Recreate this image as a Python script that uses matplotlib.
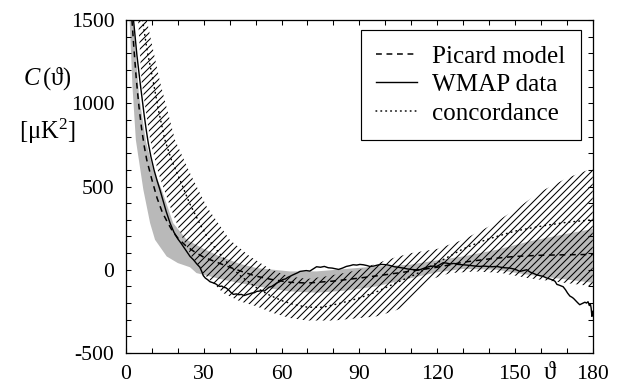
import numpy as np
import matplotlib
matplotlib.use("Agg")
import matplotlib.pyplot as plt
from matplotlib.ticker import MultipleLocator

plt.rcParams['font.family'] = ['Liberation Serif', 'DejaVu Serif']
plt.rcParams['mathtext.fontset'] = 'custom'
plt.rcParams['mathtext.rm'] = 'Liberation Serif'
plt.rcParams['mathtext.it'] = 'Liberation Serif:italic'
plt.rcParams['axes.unicode_minus'] = False
plt.rcParams['hatch.linewidth'] = 0.9
plt.rcParams['lines.scale_dashes'] = False

# Picard model (dashed)
picard_t = [2.3, 3, 4, 5, 6, 7, 8, 10, 12, 14, 16, 18, 20, 23, 26, 30, 35, 40, 45,
            50, 56, 63, 70, 80, 90, 100, 110, 120, 130, 140, 150, 160, 170, 180]
picard_v = [1500, 1340, 1140, 980, 850, 745, 660, 540, 430, 345, 285, 230, 190, 145,
            112, 75, 45, 15, -12, -38, -58, -75, -80, -68, -50, -30, -8, 15, 45, 65,
            80, 87, 90, 92]

# grey band around the Picard model
band_up_t = [2.8, 5.0, 7.7, 10.5, 13.8, 18.2, 23.4, 30, 36.2, 44, 50.4, 63.2, 73.5,
             85, 96.6, 109.5, 117.2, 130, 143, 155.5, 168, 180]
band_up_v = [1500, 1050, 770, 600, 480, 280, 180, 125, 80, 35, 10, -10, -10,
             5, 20, 30, 50, 80, 120, 170, 210, 245]
band_lo_t = [1.4, 2.5, 3.8, 6.7, 9.3, 11.2, 15.7, 20, 24.7, 27.2, 37.5, 50.4, 63.2,
             73.5, 85, 96.6, 110, 120, 130, 143, 155, 168, 180]
band_lo_v = [1500, 1100, 780, 480, 280, 180, 80, 40, 15, -20, -60, -100, -130,
             -138, -125, -100, -50, -15, 5, 0, -30, -55, -78]

# concordance model (dotted) and its band (hatched)
conc_t = [6.4, 8, 10.5, 12.5, 15, 17.5, 20.8, 24.5, 28.5, 32.4, 36.2, 40, 44, 50, 55,
          60, 65, 70, 76, 83, 90, 97, 104, 112, 118, 124, 130, 137, 143, 150, 156,
          162, 170, 180]
conc_v = [1500, 1330, 1130, 960, 780, 660, 540, 400, 275, 170, 95, 25, -35, -105, -150,
          -185, -210, -225, -225, -200, -170, -130, -80, -25, 25, 75, 125, 170, 200,
          232, 250, 267, 285, 300]
hatch_up_t = [8, 13.1, 18.9, 24.7, 31.1, 40, 47.8, 56, 63, 70, 77, 84, 90, 97, 104,
              110, 120, 130, 140, 150, 160, 170, 180]
hatch_up_v = [1500, 1130, 780, 580, 380, 180, 80, 0, -40, -55, -40, -20, 0, 40, 75,
              100, 125, 180, 260, 360, 470, 550, 610]
hatch_lo_t = [4.7, 6.0, 9.3, 12.5, 17, 22.1, 25.3, 29.7, 37.5, 44, 50.4, 56.8, 63.2,
              70, 80, 90, 96.6, 103, 108, 112, 117.2, 125, 135, 145, 155, 165, 180]
hatch_lo_v = [1500, 1130, 780, 580, 380, 180, 80, -20, -140, -190, -220, -260, -290,
              -305, -305, -290, -280, -250, -220, -140, -60, -20, -10, -20, -50, -70, -100]

# WMAP data (solid)
wmap_t = [2.9, 3.5, 4.2, 5.4, 6.2, 7.0, 7.8, 8.6, 9.6, 10.8, 12.0, 13.1, 14.2, 15.5,
          17.0, 18.5, 20.0, 21.2, 22.1, 23.4, 24.7, 26.0, 27.3, 28.5, 29.2, 29.8, 30.6,
          31.5, 32.4, 33.5, 34.6, 35.5, 36.2, 37.0, 37.5, 38.5, 39.5, 40.4, 41.4, 42.5,
          43.5, 44.5, 45.5, 46.5, 47.5, 48.5, 49.5, 50.4, 51.5, 52.5, 53.4, 54.2, 55.2,
          56.2, 57.2, 58.1, 59.2, 60.3, 61.5, 62.5, 63.2, 64.2, 65.2, 66.2, 67.1, 68.2,
          69.5, 70.9, 72.2, 73.5, 75.0, 76.5, 78.0, 79.5, 81.0, 82.0, 83.5, 85.0, 86.5,
          87.6, 89.0, 90.2, 91.5, 93.0, 94.0, 95.5, 97.0, 98.5, 100.5, 102.0, 103.5,
          105.0, 106.9, 108.5, 110.0, 111.5, 113.3, 114.8, 116.0, 117.2, 118.5, 119.8,
          121.0, 122.3, 123.6, 125.0, 126.5, 128.0, 130.0, 131.5, 133.0, 134.8, 136.5,
          138.0, 139.5, 141.0, 143.0, 144.5, 146.0, 148.0, 149.5, 150.8, 151.9, 153.2,
          154.5, 156.0, 157.2, 158.3, 159.5, 160.9, 162.0, 163.3, 164.7, 165.5, 166.2,
          167.0, 168.0, 168.6, 169.5, 170.3, 171.2, 172.0, 172.6, 173.4, 174.2, 175.0,
          175.7, 176.3, 177.0, 177.6, 178.2, 178.7, 179.1, 179.4, 179.7, 180.0]
wmap_v = [1500, 1400, 1290, 1130, 1030, 930, 840, 760, 680, 600, 535, 480, 420, 350,
          280, 225, 185, 160, 140, 110, 80, 60, 35, 15, -10, -35, -50,
          -60, -72, -78, -85, -95, -100, -98, -105, -108, -120, -135, -148, -145,
          -150, -148, -155, -150, -145, -140, -138, -130, -128, -125, -128, -118, -105,
          -100, -90, -80, -72, -60, -55, -45, -40, -32, -25, -18, -10, -8,
          -5, -8, 5, 18, 15, 20, 12, 10, 5, 2, 10, 20, 25,
          30, 28, 32, 30, 25, 20, 22, 28, 32, 30, 25, 18,
          15, 10, 5, 2, 0, 0, 8, 15, 20, 22, 20,
          30, 42, 40, 35, 38, 32, 30, 28, 25, 22, 20,
          22, 20, 18, 20, 15, 12, 10, 5, -2, -10, -5,
          0, -15, -22, -30, -35, -40, -48, -55, -62, -70, -88,
          -92, -98, -102, -120, -140, -158, -165, -172, -185, -198, -210,
          -205, -200, -195, -200, -192, -215, -205, -230, -280, -250]

fig = plt.figure(figsize=(619 / 84, 383 / 84), dpi=84)
ax = fig.add_axes([126 / 619, 30 / 383, 466.7 / 619, 333 / 383])

ax.fill(np.r_[band_up_t, band_lo_t[::-1]], np.r_[band_up_v, band_lo_v[::-1]],
        facecolor='#b9b9b9', edgecolor='none', zorder=1)
ax.fill(np.r_[hatch_up_t, hatch_lo_t[::-1]], np.r_[hatch_up_v, hatch_lo_v[::-1]],
        facecolor='none', edgecolor='black', linewidth=0, hatch='////', zorder=2)
ax.plot(conc_t, conc_v, color='black', lw=1.3, linestyle=(0, (0.6, 3.6)),
        dash_capstyle='round', zorder=3, label='concordance')
ax.plot(picard_t, picard_v, color='black', lw=1.3, linestyle=(0, (5, 4)),
        zorder=4, label='Picard model')
ax.plot(wmap_t, wmap_v, color='black', lw=1.2, zorder=5, label='WMAP data')

ax.set_xlim(0, 180)
ax.set_ylim(-500, 1500)
ax.xaxis.set_major_locator(MultipleLocator(30))
ax.xaxis.set_minor_locator(MultipleLocator(10))
ax.yaxis.set_major_locator(MultipleLocator(500))
ax.yaxis.set_minor_locator(MultipleLocator(100))
ax.tick_params(which='both', direction='in', top=True, right=True,
               length=4.5, width=0.9, labelsize=18.5)
ax.tick_params(axis='x', pad=10)
ax.tick_params(axis='y', pad=10)
for s in ax.spines.values():
    s.set_linewidth(1.1)

h, l = ax.get_legend_handles_labels()
order = [1, 2, 0]
leg = ax.legend([h[i] for i in order], [l[i] for i in order],
                loc='upper right', bbox_to_anchor=(0.974, 0.970), fontsize=21.5,
                frameon=True, fancybox=False, edgecolor='black', framealpha=1,
                handlelength=1.65, handletextpad=0.6, borderpad=0.6,
                labelspacing=0.24, borderaxespad=0)
leg.get_frame().set_linewidth(1.0)

fig.text(47 / 619, 1 - 79 / 383, '$C\\,$(ϑ)', fontsize=21, ha='center', va='center')
fig.text(47 / 619, 1 - 131 / 383, '[μK$^2$]', fontsize=21, ha='center', va='center')
fig.text(550 / 619, 1 - 373 / 383, 'ϑ', fontsize=21, ha='center', va='center')

fig.savefig('out.png', dpi=84)
